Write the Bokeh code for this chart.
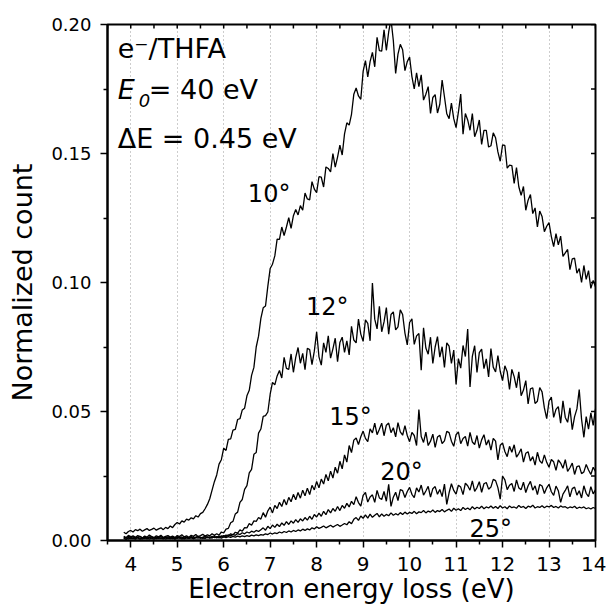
import numpy as np
from bokeh.plotting import figure
from bokeh.models import Range1d, FixedTicker, Label, PrintfTickFormatter
from bokeh.embed import file_html
from bokeh.resources import INLINE

# Energy grid of the spectra (eV): first point and channel width
E_FIRST = 3.85
E_STEP = 0.05

# Normalized counts in units of 1e-3, one row per 1 eV (20 channels)
y10 = [
    3.2, 2.6, 3.5, 3.9, 3.3, 4.2, 3.8, 4.4, 3.6, 4.1, 4.6, 3.9, 4.3, 4.8, 4.0, 4.5, 4.9, 4.2, 5.1, 4.6,
    5.6, 5.0, 6.2, 7.0, 6.4, 7.6, 7.1, 8.3, 7.9, 8.8, 8.4, 9.6, 9.1, 10.4, 10.9, 12.3, 14.0, 16.2, 19.5, 22.8,
    25.4, 29.6, 31.3, 35.8, 34.9, 39.2, 39.4, 42.8, 43.1, 46.9, 47.2, 50.6, 51.3, 56.1, 58.2, 64.0, 67.1, 75.0, 79.2, 86.1,
    90.2, 90.9, 98.6, 105.4, 107.1, 110.3, 116.8, 116.7, 121.5, 118.2, 121.5, 125.1, 121.0, 125.9, 128.3, 126.2, 129.8, 128.0, 134.7, 132.4,
    132.0, 139.1, 136.2, 134.8, 141.0, 140.8, 137.0, 144.8, 144.2, 142.9, 150.0, 144.7, 148.6, 153.2, 149.4, 157.6, 161.9, 161.0, 165.2, 173.0,
    175.4, 172.3, 171.0, 181.8, 186.0, 179.7, 185.6, 189.2, 183.6, 195.0, 189.9, 189.7, 197.9, 190.0, 197.1, 202.0, 193.8, 181.0, 188.5, 192.3,
    190.2, 182.1, 185.6, 187.4, 179.8, 175.0, 181.3, 175.9, 180.5, 170.7, 173.0, 175.9, 165.5, 171.7, 172.8, 165.7, 169.1, 178.5, 172.0, 165.4,
    163.5, 169.5, 163.5, 160.0, 166.0, 173.0, 157.5, 165.5, 163.0, 159.0, 165.5, 156.5, 159.0, 163.0, 153.5, 159.0, 159.0, 152.5, 153.0, 158.0,
    156.1, 150.6, 147.0, 153.3, 153.1, 144.3, 145.5, 145.3, 138.4, 144.5, 137.1, 133.8, 137.2, 128.0, 131.9, 134.1, 126.7, 128.9, 121.5, 127.7,
    125.6, 119.7, 121.8, 123.2, 117.8, 113.9, 118.9, 114.6, 118.0, 110.1, 111.5, 112.8, 105.0, 109.2, 109.4, 103.6, 105.4, 100.0, 106.6, 101.2,
    104.6, 97.7, 100.8, 98.3,
]
y12 = [
    1.6, 1.1, 2.0, 1.4, 1.8, 1.2, 1.9, 1.5, 1.0, 1.7, 1.3, 2.1, 1.5, 1.1, 1.8, 1.4, 2.0, 1.2, 1.6, 1.9,
    1.3, 1.7, 1.1, 1.9, 1.5, 2.2, 1.4, 1.8, 1.2, 2.0, 1.6, 2.3, 1.5, 1.9, 2.4, 1.7, 2.2, 1.8, 2.6, 2.0,
    2.6, 2.1, 3.3, 2.9, 4.4, 4.7, 6.9, 7.4, 10.3, 11.0, 14.8, 15.9, 19.8, 21.3, 26.2, 27.6, 33.4, 34.1, 41.6, 43.2,
    48.1, 48.4, 49.8, 56.7, 61.3, 60.3, 63.8, 65.9, 63.0, 71.0, 66.7, 66.3, 72.3, 65.2, 71.0, 74.8, 68.7, 72.5, 66.2, 74.5,
    74.0, 68.2, 73.4, 80.9, 71.2, 68.0, 76.6, 72.9, 79.3, 70.7, 74.3, 78.4, 69.3, 76.7, 78.8, 72.9, 77.4, 71.9, 83.0, 77.7,
    76.6, 85.8, 80.0, 77.2, 85.5, 84.2, 77.4, 99.8, 85.8, 82.0, 90.8, 80.9, 84.7, 90.3, 80.0, 87.6, 88.6, 81.6, 82.8, 89.4,
    87.6, 80.4, 75.8, 84.5, 85.9, 76.0, 79.3, 80.2, 66.0, 82.4, 74.6, 72.2, 78.8, 68.6, 75.0, 79.0, 71.1, 75.1, 67.1, 76.6,
    75.3, 68.6, 73.8, 60.5, 70.5, 66.8, 75.6, 71.3, 82.0, 59.5, 71.4, 75.5, 65.1, 72.8, 74.2, 66.6, 70.4, 63.4, 74.4, 67.2,
    65.3, 71.7, 65.6, 62.0, 67.7, 65.4, 58.6, 66.3, 63.5, 59.2, 65.4, 56.1, 58.3, 62.0, 52.9, 58.8, 59.2, 53.1, 54.0, 59.3,
    57.6, 51.4, 47.2, 54.0, 55.6, 47.7, 50.8, 51.9, 45.5, 54.1, 47.7, 45.8, 51.4, 43.0, 48.0, 51.0, 58.5, 47.0, 40.0, 48.0,
    43.2, 49.5, 44.6, 51.0,
]
y15 = [
    0.9, 0.4, 1.2, 0.7, 1.0, 0.5, 1.3, 0.8, 0.6, 1.1, 0.7, 1.4, 0.9, 0.5, 1.2, 0.8, 1.0, 0.6, 1.3, 0.9,
    0.7, 1.1, 0.5, 1.2, 0.9, 1.4, 0.6, 1.0, 0.8, 1.3, 0.7, 1.1, 1.5, 0.9, 1.2, 0.8, 1.4, 1.0, 1.6, 1.1,
    1.5, 1.0, 1.8, 1.4, 2.1, 1.7, 2.6, 2.2, 3.2, 2.9, 4.1, 3.6, 5.0, 4.9, 6.6, 5.9, 7.6, 7.4, 8.9, 8.3,
    10.8, 9.0, 11.5, 12.9, 10.7, 13.6, 12.4, 14.8, 13.2, 15.9, 13.8, 16.7, 15.0, 17.9, 15.8, 18.6, 16.4, 19.5, 17.3, 20.3,
    17.8, 21.4, 19.6, 22.9, 20.4, 23.8, 21.9, 25.6, 23.1, 26.9, 24.2, 28.4, 26.1, 30.7, 27.8, 33.2, 30.4, 36.8, 34.1, 38.9,
    39.7, 37.2, 40.2, 42.4, 39.6, 38.3, 43.3, 41.7, 45.5, 41.0, 43.1, 45.5, 40.6, 44.7, 45.5, 41.8, 43.7, 40.2, 45.7, 42.1,
    40.8, 44.5, 40.7, 38.3, 41.9, 40.7, 36.8, 50.8, 40.3, 38.0, 42.0, 36.8, 38.5, 41.2, 36.1, 40.1, 40.8, 37.6, 38.6, 42.3,
    41.8, 38.5, 36.5, 41.0, 42.1, 37.5, 39.5, 40.3, 36.6, 41.9, 38.2, 37.2, 40.7, 35.8, 39.0, 41.0, 37.0, 39.0, 35.0, 39.6,
    38.5, 31.2, 36.9, 37.8, 34.5, 32.5, 36.5, 34.2, 37.1, 32.3, 33.7, 35.5, 30.4, 33.8, 34.4, 30.8, 32.5, 29.2, 34.2, 30.9,
    29.9, 33.2, 30.3, 28.4, 31.4, 30.5, 27.2, 31.2, 30.0, 28.0, 31.3, 26.8, 28.2, 30.0, 25.6, 28.6, 28.9, 25.9, 26.6, 29.5,
    27.3, 25.6, 28.4, 26.8,
]
y20 = [
    1.4, 0.9, 1.7, 1.1, 1.5, 0.8, 1.3, 1.6, 1.0, 1.4, 0.7, 1.2, 1.5, 0.9, 1.3, 1.1, 1.6, 0.8, 1.2, 1.4,
    1.0, 1.3, 0.7, 1.5, 1.1, 0.9, 1.4, 1.2, 0.8, 1.5, 1.0, 1.3, 1.6, 0.9, 1.2, 1.7, 1.1, 1.4, 1.0, 1.5,
    1.2, 1.7, 1.4, 1.9, 1.5, 2.2, 1.8, 2.4, 2.0, 2.7, 2.3, 3.0, 2.6, 3.3, 2.9, 3.6, 3.2, 3.9, 3.5, 4.2,
    4.9, 4.0, 5.5, 4.6, 6.0, 5.1, 6.3, 5.4, 6.8, 5.9, 7.3, 6.2, 7.6, 6.7, 8.1, 7.0, 8.4, 7.6, 8.9, 7.9,
    9.4, 8.2, 10.1, 9.1, 10.6, 9.4, 11.3, 10.0, 12.0, 10.7, 12.4, 11.3, 13.2, 11.6, 13.6, 12.5, 14.4, 13.0, 15.2, 13.9,
    17.0, 14.7, 13.3, 17.5, 18.6, 14.9, 16.9, 17.7, 14.8, 19.4, 16.5, 15.9, 19.0, 15.2, 21.8, 13.2, 16.8, 18.7, 15.5, 19.7,
    19.3, 16.7, 19.0, 20.6, 17.9, 16.6, 20.4, 18.8, 21.5, 17.6, 19.2, 21.0, 16.8, 20.1, 20.9, 17.9, 19.8, 17.0, 21.9, 14.0,
    18.5, 22.0, 19.4, 18.0, 21.4, 20.7, 17.8, 22.2, 21.2, 19.5, 23.1, 19.0, 20.5, 22.8, 18.7, 22.0, 22.5, 19.9, 20.7, 23.7,
    23.2, 20.5, 16.0, 25.0, 23.5, 19.7, 21.4, 22.1, 19.0, 23.5, 20.4, 19.7, 22.6, 18.6, 21.2, 22.9, 19.5, 21.2, 17.8, 21.7,
    21.1, 18.2, 20.4, 21.8, 18.9, 17.5, 21.1, 19.3, 14.8, 18.0, 19.4, 21.2, 16.9, 20.1, 20.7, 17.6, 19.3, 16.5, 21.2, 18.3,
    17.0, 20.9, 18.1, 19.6,
]
y25 = [
    0.8, 1.1, 0.6, 1.0, 0.7, 1.2, 0.9, 0.5, 1.0, 0.8, 1.1, 0.6, 0.9, 1.2, 0.7, 1.0, 0.8, 1.1, 0.6, 0.9,
    1.0, 0.7, 1.2, 0.8, 1.1, 0.6, 0.9, 1.2, 0.8, 1.0, 0.7, 1.1, 0.9, 1.3, 0.8, 1.0, 1.2, 0.9, 1.1, 1.3,
    1.0, 1.3, 0.9, 1.4, 1.1, 1.5, 1.2, 1.6, 1.3, 1.7, 1.4, 1.8, 1.5, 1.9, 1.6, 2.1, 1.8, 2.2, 1.9, 2.3,
    2.1, 2.6, 2.3, 2.9, 2.5, 3.0, 2.7, 3.3, 2.9, 3.5, 3.1, 3.7, 3.3, 3.9, 3.5, 4.1, 3.7, 4.4, 3.9, 4.5,
    4.1, 4.9, 4.5, 5.3, 4.7, 5.1, 5.6, 4.9, 5.4, 5.9, 5.2, 5.7, 6.2, 5.5, 6.0, 6.6, 6.1, 7.3, 6.5, 8.2,
    8.9, 7.8, 9.5, 8.6, 9.9, 8.7, 10.2, 9.0, 9.8, 10.5, 9.2, 10.3, 9.4, 10.1, 9.6, 10.7, 9.8, 10.4, 9.9, 10.8,
    10.1, 11.0, 10.3, 10.9, 10.5, 11.3, 10.4, 11.1, 10.8, 11.6, 10.7, 11.4, 11.0, 11.8, 10.9, 11.6, 11.2, 12.0, 11.1, 11.7,
    12.2, 11.3, 12.5, 11.7, 12.3, 11.6, 12.8, 12.0, 12.6, 11.9, 13.1, 12.2, 12.9, 12.4, 13.3, 12.3, 13.0, 12.6, 13.4, 12.5,
    13.2, 12.4, 13.5, 12.6, 13.1, 12.3, 13.4, 12.7, 13.0, 12.5, 13.6, 12.8, 13.2, 12.4, 13.3, 12.9, 13.7, 12.6, 13.1, 12.8,
    13.5, 12.7, 13.3, 13.0, 13.6, 12.8, 13.2, 12.6, 13.4, 12.9, 13.1, 12.5, 13.0, 12.7, 13.3, 12.4, 12.9, 12.6, 13.0, 12.3,
    12.7, 12.2, 12.8, 12.4,
]

series = [y10, y12, y15, y20, y25]
angle_labels = ["10°", "12°", "15°", "20°", "25°"]

x_ticks = [4, 5, 6, 7, 8, 9, 10, 11, 12, 13, 14]
x_minor = [3.5, 4.5, 5.5, 6.5, 7.5, 8.5, 9.5, 10.5, 11.5, 12.5, 13.5]
y_ticks = [0.0, 0.05, 0.10, 0.15, 0.20]
y_minor = [0.025, 0.075, 0.125, 0.175]

X_MIN, X_MAX = 3.5, 14.0
Y_MIN, Y_MAX = 0.0, 0.20

FONT = "DejaVu Sans"

p = figure(width=606, height=609, x_range=Range1d(X_MIN, X_MAX), y_range=Range1d(Y_MIN, Y_MAX),
           output_backend="svg", toolbar_location=None,
           min_border_left=107, min_border_right=11, min_border_top=24, min_border_bottom=69,
           background_fill_color="white", border_fill_color="white")
p.outline_line_color = "black"
p.outline_line_width = 2

for ys in series:
    arr = np.array(ys) / 1000.0
    e = E_FIRST + E_STEP * np.arange(len(arr))
    p.line(e, arr, line_color="black", line_width=1.3)

# mirrored inward ticks on the top and right frame edges (half of each dash is clipped by the frame)
top_t = x_ticks + x_minor
p.scatter(top_t, [Y_MAX] * len(top_t), marker="dash", size=8, angle=np.pi / 2,
          line_color="black", line_width=1.5)
right_t = y_ticks + y_minor
p.scatter([X_MAX] * len(right_t), right_t, marker="dash", size=9,
          line_color="black", line_width=1.5)

# axes
xa = p.xaxis[0]
ya = p.yaxis[0]
xa.ticker = FixedTicker(ticks=x_ticks, minor_ticks=x_minor)
ya.ticker = FixedTicker(ticks=y_ticks, minor_ticks=y_minor)
ya.formatter = PrintfTickFormatter(format="%.2f")
xa.axis_label = "Electron energy loss (eV)"
ya.axis_label = "Normalized count"
for ax, fs in ((xa, "20px"), (ya, "18px")):
    ax.axis_line_width = 2
    ax.axis_line_color = "black"
    ax.major_tick_line_width = 1.5
    ax.minor_tick_line_width = 1.5
    ax.major_tick_line_color = "black"
    ax.minor_tick_line_color = "black"
    ax.major_tick_out = 7
    ax.major_tick_in = 0
    ax.minor_tick_out = 4
    ax.minor_tick_in = 0
    ax.major_label_text_font = FONT
    ax.major_label_text_font_size = fs
    ax.major_label_text_color = "black"
    ax.axis_label_text_font = FONT
    ax.axis_label_text_font_style = "normal"
    ax.axis_label_text_color = "black"
xa.axis_label_text_font_size = "26px"
ya.axis_label_text_font_size = "27px"
xa.major_label_standoff = 9
xa.axis_label_standoff = 0
ya.major_label_standoff = 9
ya.axis_label_standoff = 10

p.xgrid.ticker = FixedTicker(ticks=x_ticks[:-1])
p.xgrid.grid_line_color = "#9a9a9a"
p.xgrid.grid_line_dash = "1 3"
p.xgrid.grid_line_width = 1
p.ygrid.visible = False

# curve annotations
ann_x = [6.52, 7.77, 8.27, 9.37, 11.29]
ann_y = [0.1344, 0.0904, 0.0477, 0.0264, 0.0045]
for t, ax_, ay_ in zip(angle_labels, ann_x, ann_y):
    p.add_layout(Label(x=ax_, y=ay_, text=t, text_font=FONT, text_font_size="24px",
                       text_color="black", text_baseline="alphabetic"))

# header text
p.add_layout(Label(x=3.72, y=0.1906, text="e\u207b/THFA", text_font=FONT, text_font_size="27px",
                   text_baseline="alphabetic", text_color="black"))
p.add_layout(Label(x=3.72, y=0.1747, text="E", text_font=FONT, text_font_size="27px",
                   text_font_style="italic", text_baseline="alphabetic", text_color="black"))
p.add_layout(Label(x=4.17, y=0.1706, text="0", text_font=FONT, text_font_size="18px",
                   text_font_style="italic", text_baseline="alphabetic", text_color="black"))
p.add_layout(Label(x=4.39, y=0.1747, text="= 40 eV", text_font=FONT, text_font_size="27px",
                   text_baseline="alphabetic", text_color="black"))
p.add_layout(Label(x=3.72, y=0.1557, text="\u0394E = 0.45 eV", text_font=FONT, text_font_size="27px",
                   text_baseline="alphabetic", text_color="black"))

open("out.html", "w").write(file_html(p, INLINE))
